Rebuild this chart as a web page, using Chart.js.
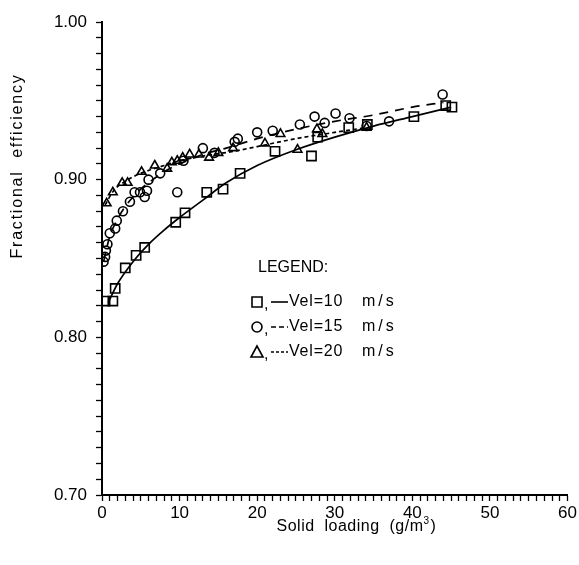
<!DOCTYPE html>
<html lang="en">
<head>
  <meta charset="UTF-8">
  <title>Fractional efficiency vs solid loading</title>
  <script src="https://cdn.jsdelivr.net/npm/chart.js"></script>
  <style>
    body { margin: 0; background: #fff; }
  </style>
</head>
<body>
  <canvas id="effChart" width="579" height="565"></canvas>

  <script>
    // measured points, Vel = 10 m/s (squares)
    const sqX = [0.4, 1.4, 1.7, 3.0, 4.4, 5.5, 9.5, 10.7, 13.5, 15.6, 17.8, 22.3, 27.0, 27.8, 31.8, 34.2, 40.2, 44.3, 45.1];
    const sqY = [0.823, 0.823, 0.831, 0.844, 0.852, 0.857, 0.873, 0.879, 0.892, 0.894, 0.904, 0.918, 0.915, 0.927, 0.933, 0.935, 0.940, 0.947, 0.946];

    // Vel = 15 m/s (circles)
    const ciX = [0.2, 0.4, 0.5, 0.7, 1.0, 1.7, 1.9, 2.7, 3.6, 4.2, 4.9, 5.5, 5.8, 6.0, 7.5, 9.7, 10.5, 13.0, 14.5, 17.1, 17.5, 20.0, 22.0, 25.5, 27.4, 28.7, 30.1, 31.9, 34.1, 37.0, 43.9];
    const ciY = [0.848, 0.851, 0.855, 0.859, 0.866, 0.869, 0.874, 0.880, 0.886, 0.892, 0.892, 0.889, 0.893, 0.900, 0.904, 0.892, 0.912, 0.920, 0.917, 0.924, 0.926, 0.930, 0.931, 0.935, 0.940, 0.936, 0.942, 0.939, 0.934, 0.937, 0.954];

    // Vel = 20 m/s (triangles)
    const trX = [0.6, 1.4, 2.6, 3.3, 5.1, 6.8, 8.4, 9.0, 9.7, 10.4, 11.3, 12.5, 13.8, 15.0, 16.9, 21.0, 23.0, 25.2, 27.7, 28.4, 34.1];
    const trY = [0.885, 0.892, 0.898, 0.898, 0.905, 0.909, 0.907, 0.911, 0.912, 0.914, 0.916, 0.916, 0.914, 0.917, 0.920, 0.923, 0.929, 0.919, 0.932, 0.929, 0.933];

    // fitted curves
    const fit10X = [0.8, 2, 4, 6, 8, 10, 13, 16, 20, 25, 30, 35, 40, 45];
    const fit10Y = [0.822, 0.834, 0.848, 0.859, 0.868, 0.876, 0.887, 0.898, 0.909, 0.919, 0.927, 0.934, 0.940, 0.946];
    const fit15X = [0.2, 1, 2, 3, 4, 5, 6, 8, 10, 13, 16, 20, 25, 30, 35, 40, 44];
    const fit15Y = [0.848, 0.864, 0.875, 0.883, 0.889, 0.894, 0.898, 0.905, 0.910, 0.916, 0.920, 0.926, 0.932, 0.937, 0.941, 0.946, 0.949];
    const fit20X = [0.4, 1.5, 3, 5, 8, 10, 13, 17, 20, 25, 30, 34];
    const fit20Y = [0.884, 0.893, 0.899, 0.904, 0.909, 0.912, 0.915, 0.918, 0.921, 0.926, 0.930, 0.933];

    const legendRows = [
      { mark: 'rect', dash: [], text: 'Vel=10' },
      { mark: 'circle', dash: [5, 3], text: 'Vel=15' },
      { mark: 'triangle', dash: [3, 2], text: 'Vel=20' }
    ];

    const pts = (xs, ys) => xs.map((x, i) => ({ x: x, y: ys[i] }));
    const FONT = '"Liberation Sans", Arial, sans-serif';

    function markerSet(data, style, r) {
      return {
        data: data,
        showLine: false,
        pointStyle: style,
        pointRadius: r,
        pointBorderColor: '#000',
        pointBackgroundColor: 'rgba(255,255,255,0)',
        pointBorderWidth: 1.6
      };
    }

    function curveSet(data, dash) {
      return {
        data: data,
        showLine: true,
        pointRadius: 0,
        borderColor: '#000',
        borderWidth: 1.7,
        borderDash: dash,
        cubicInterpolationMode: 'monotone',
        fill: false
      };
    }

    // axis titles and the text legend inside the plot
    const annotations = {
      id: 'annotations',
      afterDraw(chart) {
        const c = chart.ctx;
        c.save();
        c.fillStyle = '#000';
        c.strokeStyle = '#000';
        c.textBaseline = 'middle';

        c.font = '16px ' + FONT;
        c.letterSpacing = '0.5px';
        c.textAlign = 'left';
        const xt = 'Solid  loading  (g/m';
        const w = c.measureText(xt).width;
        const x0 = 356 - w / 2 - 6;
        c.fillText(xt, x0, 527);
        c.font = '10px ' + FONT;
        c.fillText('3', x0 + w, 521);
        c.font = '16px ' + FONT;
        c.fillText(')', x0 + w + 7, 527);

        c.save();
        c.translate(18, 166);
        c.rotate(-Math.PI / 2);
        c.textAlign = 'center';
        c.font = '16px ' + FONT;
        c.letterSpacing = '1.8px';
        c.fillText('Fractional  efficiency', 0, 0);
        c.restore();

        c.letterSpacing = '0px';
        c.font = '16px ' + FONT;
        c.fillText('LEGEND:', 258, 268);
        legendRows.forEach((row, i) => {
          const y = 302 + i * 25;
          c.lineWidth = 1.6;
          c.setLineDash([]);
          c.beginPath();
          if (row.mark === 'rect') c.rect(252, y - 5, 10, 10);
          if (row.mark === 'circle') c.arc(257, y, 5, 0, Math.PI * 2);
          if (row.mark === 'triangle') { c.moveTo(251, y + 5); c.lineTo(257, y - 6); c.lineTo(263, y + 5); c.closePath(); }
          c.stroke();
          c.letterSpacing = '0px';
          c.fillText(',', 264, y + 3);
          c.setLineDash(row.dash);
          c.beginPath();
          c.moveTo(271, y);
          c.lineTo(288, y);
          c.stroke();
          c.setLineDash([]);
          c.letterSpacing = '0.8px';
          c.fillText(row.text, 289, y);
          c.letterSpacing = '3px';
          c.fillText('m/s', 362, y);
        });
        c.restore();
      }
    };

    const ctx = document.getElementById('effChart').getContext('2d');
    new Chart(ctx, {
      type: 'scatter',
      data: {
        datasets: [
          markerSet(pts(sqX, sqY), 'rect', 6.5),
          markerSet(pts(ciX, ciY), 'circle', 4.5),
          markerSet(pts(trX, trY), 'triangle', 5),
          curveSet(pts(fit10X, fit10Y), []),
          curveSet(pts(fit15X, fit15Y), [9, 7]),
          curveSet(pts(fit20X, fit20Y), [4, 3])
        ]
      },
      options: {
        responsive: false,
        animation: false,
        layout: { padding: { left: 0, top: 22, right: 11, bottom: 0 } },
        plugins: { legend: { display: false }, tooltip: { enabled: false } },
        scales: {
          x: {
            type: 'linear',
            min: 0,
            max: 60,
            afterFit: s => { s.height = 70; },
            border: { display: true, color: '#000', width: 2 },
            grid: { display: true, drawOnChartArea: false, color: '#000', tickLength: 6, tickWidth: 1.3 },
            ticks: {
              stepSize: 1,
              autoSkip: false,
              maxRotation: 0,
              padding: 2,
              color: '#000',
              font: { family: FONT, size: 17 },
              callback: v => (v % 10 === 0 ? v : '')
            }
          },
          y: {
            type: 'linear',
            min: 0.7,
            max: 1.0,
            afterFit: s => { s.width = 102; },
            border: { display: true, color: '#000', width: 2 },
            grid: { display: true, drawOnChartArea: false, color: '#000', tickLength: 6, tickWidth: 1.3 },
            ticks: {
              stepSize: 0.01,
              autoSkip: false,
              padding: 9,
              color: '#000',
              font: { family: FONT, size: 17 },
              callback: v => (Math.round(v * 100) % 10 === 0 ? v.toFixed(2) : '')
            }
          }
        }
      },
      plugins: [annotations]
    });
  </script>
</body>
</html>
